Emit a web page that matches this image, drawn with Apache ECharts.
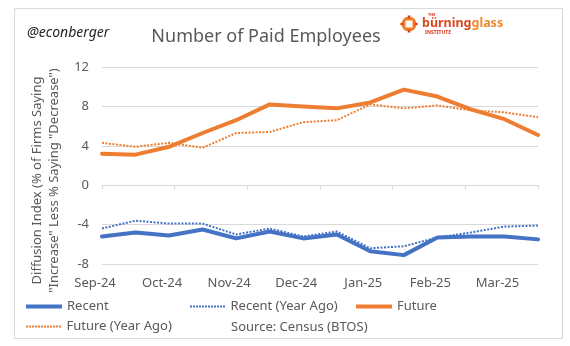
<!DOCTYPE html>
<html>
<head>
<meta charset="utf-8">
<script src="https://cdn.jsdelivr.net/npm/echarts@6/dist/echarts.min.js"></script>
<style>
html,body{margin:0;padding:0;background:#fff;}
#chart{width:570px;height:346px;}
</style>
</head>
<body>
<div id="chart"></div>
<script>
// biweekly observation periods
const periods = ['2024-09-02','2024-09-16','2024-09-30','2024-10-14','2024-10-28','2024-11-11','2024-11-25',
                 '2024-12-09','2024-12-23','2025-01-06','2025-01-20','2025-02-03','2025-02-17','2025-03-03'];
const tickLabels = ['Sep-24','Oct-24','Nov-24','Dec-24','Jan-25','Feb-25','Mar-25'];
const monthTicks = [0, 6];
const yTicks = {min: -8, max: 12, interval: 4};

const recent        = [-5.2,-4.8,-5.1,-4.5,-5.4,-4.7,-5.4,-5.0,-6.7,-7.1,-5.3,-5.2,-5.2,-5.5];
const recentYearAgo = [-4.4,-3.6,-3.9,-3.9,-5.0,-4.4,-5.2,-4.7,-6.4,-6.2,-5.3,-4.8,-4.2,-4.1];
const future        = [3.2,3.1,3.9,5.3,6.6,8.2,8.0,7.8,8.4,9.7,9.0,7.7,6.7,5.1];
const futureYearAgo = [4.3,3.9,4.3,3.8,5.3,5.4,6.4,6.6,8.2,7.8,8.1,7.6,7.4,6.9];

const BLUE = '#4472C4', ORANGE = '#ED7D31', GREY = '#595959', GRID = '#d9d9d9';
const FONT = 'Noto Sans';

// legend icon shapes
let dotPath = 'path://';
for (let i = 0; i < 12; i++) dotPath += 'M' + (i * 3) + ',0h2v2h-2z';

const chart = echarts.init(document.getElementById('chart'), null, {renderer: 'canvas'});

function legendAt(name, left, top, dotted) {
  const h = dotted ? 2 : 4;
  return {
    data: [{name: name, icon: dotted ? dotPath : 'rect'}],
    left: left, top: top, itemWidth: 36, itemHeight: h, itemGap: 0,
    selectedMode: false, padding: 0,
    textStyle: {color: GREY, fontSize: 13, fontFamily: FONT}
  };
}

chart.setOption({
  animation: false,
  backgroundColor: '#fff',
  textStyle: {fontFamily: FONT},
  grid: {left: 102, right: 32, top: 67, bottom: 82, containLabel: false},
  xAxis: [{
    type: 'category', data: periods, boundaryGap: false, position: 'bottom',
    axisLine: {show: false, onZero: false},
    axisTick: {show: false},
    axisLabel: {
      interval: 1, color: GREY, fontSize: 13, fontFamily: FONT, margin: 13,
      padding: [0, 14, 0, 0],
      formatter: function (v, i) { return tickLabels[i / 2] || ''; }
    },
    splitLine: {show: false}
  }, {
    type: 'value', min: monthTicks[0], max: monthTicks[1], interval: 1, position: 'bottom',
    axisLine: {show: true, onZero: true, onZeroAxisIndex: 0, lineStyle: {color: GRID, width: 1}},
    axisTick: {show: true, length: 4, lineStyle: {color: GRID}},
    axisLabel: {show: false},
    splitLine: {show: false}
  }],
  yAxis: {
    type: 'value', min: yTicks.min, max: yTicks.max, interval: yTicks.interval,
    axisLine: {show: false}, axisTick: {show: false},
    axisLabel: {color: GREY, fontSize: 13, fontFamily: FONT, margin: 13},
    splitLine: {lineStyle: {color: GRID, width: 1}},
    name: 'Diffusion Index (% of Firms Saying\n"Increase" Less % Saying "Decrease")',
    nameLocation: 'middle', nameGap: 32,
    nameTextStyle: {color: GREY, fontSize: 13, fontFamily: FONT, lineHeight: 17, padding: [0, 30, 0, 0]}
  },
  legend: [
    legendAt('Recent', 26, 300, false),
    legendAt('Recent (Year Ago)', 190, 300, true),
    legendAt('Future', 356, 300, false),
    legendAt('Future (Year Ago)', 26, 320, true)
  ],
  series: [
    {name: 'Recent', type: 'line', data: recent, symbol: 'none', z: 4,
     lineStyle: {color: BLUE, width: 4, cap: 'round', join: 'round'}, itemStyle: {color: BLUE}},
    {name: 'Recent (Year Ago)', type: 'line', data: recentYearAgo, symbol: 'none', z: 3,
     lineStyle: {color: BLUE, width: 2, type: [2, 1.5]}, itemStyle: {color: BLUE}},
    {name: 'Future', type: 'line', data: future, symbol: 'none', z: 4,
     lineStyle: {color: ORANGE, width: 4, cap: 'round', join: 'round'}, itemStyle: {color: ORANGE}},
    {name: 'Future (Year Ago)', type: 'line', data: futureYearAgo, symbol: 'none', z: 3,
     lineStyle: {color: ORANGE, width: 2, type: [2, 1.5]}, itemStyle: {color: ORANGE}}
  ],
  graphic: [
    {type: 'rect', shape: {x: 14.5, y: 8.5, width: 548, height: 330}, silent: true,
     style: {fill: 'none', stroke: GRID, lineWidth: 1}, z: -1},
    {type: 'text', x: 27, y: 33, style: {text: '@econberger', fontSize: 14, fontStyle: 'italic',
      fontFamily: FONT, fill: '#262626', verticalAlign: 'middle', align: 'left'}},
    {type: 'text', x: 266, y: 37, style: {text: 'Number of Paid Employees', fontSize: 18,
      fontFamily: FONT, fill: GREY, verticalAlign: 'middle', align: 'center'}},
    {type: 'text', x: 231, y: 327, style: {text: 'Source: Census (BTOS)', fontSize: 13,
      fontFamily: FONT, fill: GREY, verticalAlign: 'middle', align: 'left'}},
    // logo
    {type: 'circle', shape: {cx: 409, cy: 24, r: 7.5}, style: {fill: '#F07C22'}},
    {type: 'rect', shape: {x: 405.5, y: 20.5, width: 7, height: 7}, style: {fill: '#fff'}},
    {type: 'polygon', shape: {points: [[407.5,15.5],[410.5,15.5],[409,19]]}, style: {fill: '#D9361E'}},
    {type: 'polygon', shape: {points: [[407.5,32.5],[410.5,32.5],[409,29]]}, style: {fill: '#D9361E'}},
    {type: 'polygon', shape: {points: [[400.5,22.5],[400.5,25.5],[404,24]]}, style: {fill: '#D9361E'}},
    {type: 'polygon', shape: {points: [[417.5,22.5],[417.5,25.5],[414,24]]}, style: {fill: '#D9361E'}},
    {type: 'text', x: 428, y: 15, style: {text: 'THE', fontSize: 4, fontWeight: 'bold', fontFamily: FONT,
      fill: '#D9361E', verticalAlign: 'middle'}},
    {type: 'text', x: 422, y: 23, style: {
      text: '{a|bürning}{b|glass}', verticalAlign: 'middle', align: 'left',
      rich: {a: {fontSize: 12.5, fontWeight: 'bold', fontFamily: FONT, fill: '#D9471F', color: '#D9471F'},
             b: {fontSize: 12.5, fontWeight: 'bold', fontFamily: FONT, fill: '#F08A2B', color: '#F08A2B'}}}},
    {type: 'text', x: 425, y: 33, style: {text: 'INSTITUTE', fontSize: 5, fontWeight: 'bold', fontFamily: FONT,
      fill: '#D9361E', verticalAlign: 'middle'}}
  ]
});
</script>
</body>
</html>
